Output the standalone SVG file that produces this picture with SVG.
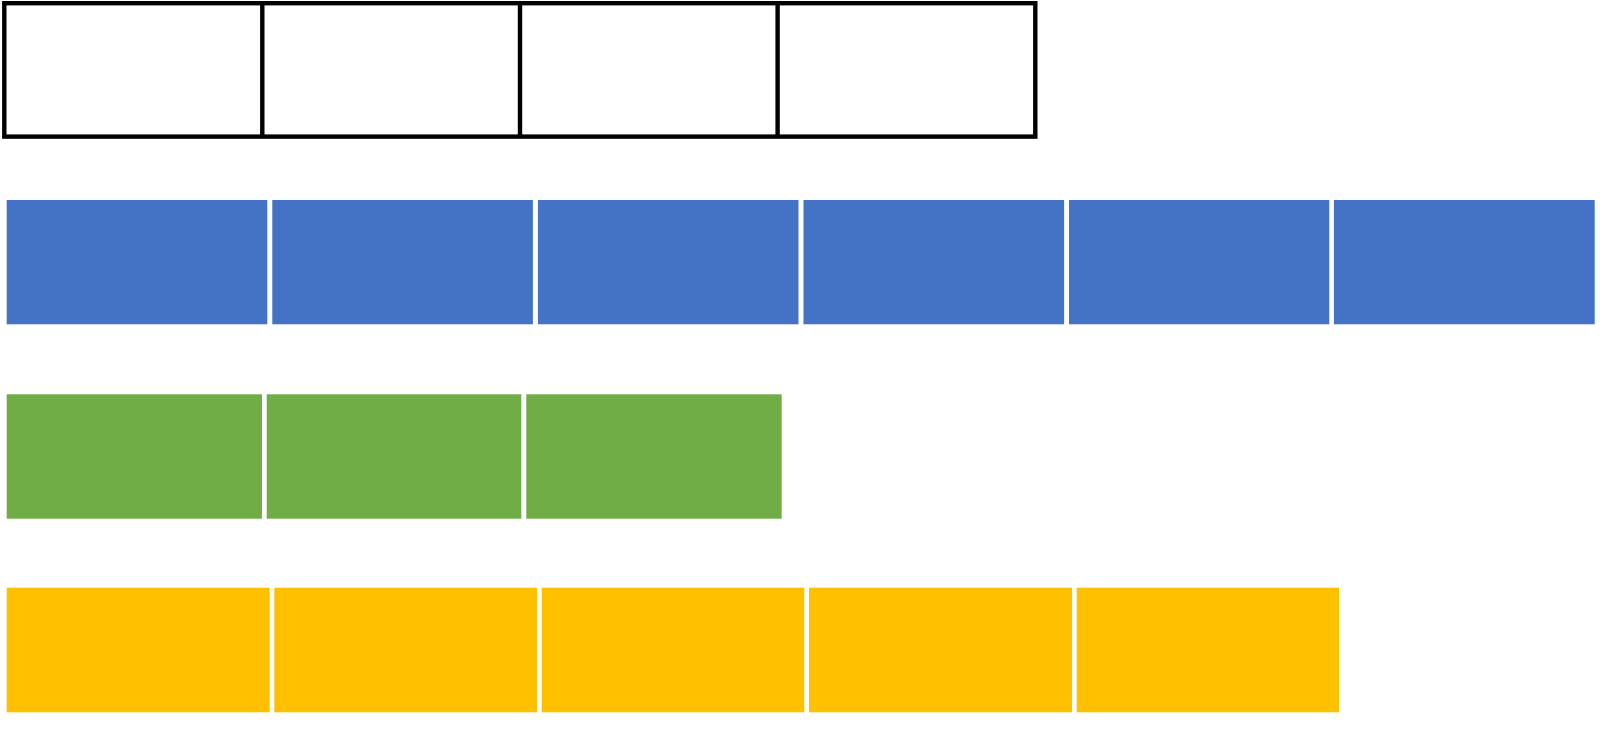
<svg xmlns="http://www.w3.org/2000/svg" width="1608" height="733" viewBox="0 0 1608 733">
  <style>
    .frame { fill: #FFFFFF; stroke: #000000; stroke-width: 4.4; }
    .div { stroke: #000000; stroke-width: 4.4; fill: none; }
    .blue { fill: #4472C4; }
    .green { fill: #70AD47; }
    .yellow { fill: #FFC000; }
  </style>
  <rect width="1608" height="733" fill="#FFFFFF"/>
  <g id="top-row">
    <rect class="frame" x="4.3" y="3.2" width="1031" height="133.4"/>
    <line class="div" x1="262.3" y1="3.2" x2="262.3" y2="136.6"/>
    <line class="div" x1="520" y1="3.2" x2="520" y2="136.6"/>
    <line class="div" x1="777.6" y1="3.2" x2="777.6" y2="136.6"/>
  </g>
  <g id="blue-row">
    <rect id="b1" class="blue" x="6.7" y="200" width="260.6" height="124.3"/>
    <rect id="b2" class="blue" x="272.3" y="200" width="260.6" height="124.3"/>
    <rect id="b3" class="blue" x="537.9" y="200" width="260.6" height="124.3"/>
    <rect id="b4" class="blue" x="803.5" y="200" width="260.6" height="124.3"/>
    <rect id="b5" class="blue" x="1069" y="200" width="260.3" height="124.3"/>
    <rect id="b6" class="blue" x="1333.9" y="200" width="260.8" height="124.3"/>
  </g>
  <g id="green-row">
    <rect id="g1" class="green" x="6.7" y="394.3" width="255.3" height="124.4"/>
    <rect id="g2" class="green" x="266.7" y="394.3" width="254.6" height="124.4"/>
    <rect id="g3" class="green" x="526.3" y="394.3" width="255.4" height="124.4"/>
  </g>
  <g id="yellow-row">
    <rect id="y1" class="yellow" x="6.7" y="587.7" width="263" height="124.6"/>
    <rect id="y2" class="yellow" x="274.3" y="587.7" width="262.7" height="124.6"/>
    <rect id="y3" class="yellow" x="541.7" y="587.7" width="262.6" height="124.6"/>
    <rect id="y4" class="yellow" x="809" y="587.7" width="263" height="124.6"/>
    <rect id="y5" class="yellow" x="1076.7" y="587.7" width="262.3" height="124.6"/>
  </g>
  <g id="connectors"/>
</svg>
